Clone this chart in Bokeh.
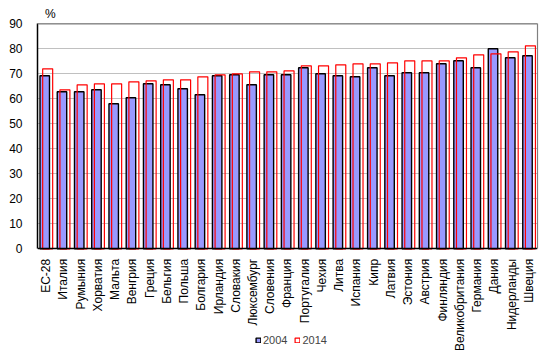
from bokeh.plotting import figure
from bokeh.models import (ColumnDataSource, FactorRange, Range1d, Legend, LegendItem,
                          Label, FixedTicker, LinearAxis, Span)
from bokeh.transform import dodge
from bokeh.embed import file_html
from bokeh.resources import INLINE
from math import pi

countries = ["ЕС-28", "Италия", "Румыния", "Хорватия", "Мальта", "Венгрия", "Греция",
             "Бельгия", "Польша", "Болгария", "Ирландия", "Словакия", "Люксембург",
             "Словения", "Франция", "Португалия", "Чехия", "Литва", "Испания", "Кипр",
             "Латвия", "Эстония", "Австрия", "Финляндия", "Великобритания", "Германия",
             "Дания", "Нидерланды", "Швеция"]
v2004 = [69.2, 62.8, 62.8, 63.6, 58.0, 60.4, 66.0, 65.6, 64.0, 61.6, 69.2, 69.6, 65.6,
         69.6, 69.6, 72.4, 70.0, 69.2, 68.8, 72.4, 69.2, 70.4, 70.4, 74.0, 75.2, 72.4,
         80.0, 76.4, 77.2]
v2014 = [72.0, 63.6, 65.6, 66.0, 66.0, 66.8, 67.2, 67.6, 67.6, 68.8, 69.6, 70.0, 70.8,
         70.8, 71.2, 73.2, 73.2, 73.6, 74.0, 74.0, 74.4, 75.2, 75.2, 75.2, 76.4, 77.6,
         78.0, 78.8, 81.2]
y_ticks = [0, 10, 20, 30, 40, 50, 60, 70, 80, 90]
series_names = ["2004", "2014"]
unit_label = "%"

FONT = "Liberation Sans"
Y_MAX = 90

# frame covers the full height; value axis 0..90 maps to pixel rows 248.3..23.3
PX_PER_UNIT = 2.5
y_lo = -(356 - 248.3) / PX_PER_UNIT
y_hi = Y_MAX + 23.3 / PX_PER_UNIT

src = ColumnDataSource(dict(country=countries, v2004=v2004, v2014=v2014))

p = figure(x_range=FactorRange(*countries), y_range=Range1d(y_lo, y_hi),
           width=550, height=356, output_backend="svg", toolbar_location=None,
           min_border_left=37, min_border_right=13, min_border_top=0,
           min_border_bottom=0)
p.background_fill_color = "white"
p.border_fill_color = "white"
p.outline_line_color = None

p.xgrid.grid_line_color = None
p.ygrid.grid_line_color = "#c0c0c0"
p.ygrid.grid_line_width = 1.2
p.ygrid.ticker = FixedTicker(ticks=y_ticks)
p.yaxis.ticker = FixedTicker(ticks=y_ticks)
p.yaxis.bounds = (0, Y_MAX)

r1 = p.vbar(x=dodge("country", -0.08, range=p.x_range), top="v2004", width=0.55,
            bottom=0, fill_color="#9999ff", line_color="black", line_width=1.4,
            source=src)
r2 = p.vbar(x=dodge("country", 0.09, range=p.x_range), top="v2014", width=0.58,
            bottom=0, fill_color=None, line_color="red", line_width=1.2,
            source=src)

# gray plot-area border (top and right)
p.add_layout(Span(location=Y_MAX, dimension="width", line_color="#808080",
                  line_width=1.2))
right_ax = LinearAxis(bounds=(0, Y_MAX), ticker=FixedTicker(ticks=[]),
                      axis_line_color="#808080", axis_line_width=1.2,
                      major_tick_line_color=None, minor_tick_line_color=None,
                      major_label_text_font_size="0px")
p.add_layout(right_ax, "right")

for ax in (p.xaxis[0], p.yaxis[0]):
    ax.major_tick_line_color = None
    ax.minor_tick_line_color = None
    ax.axis_line_color = "black"
    ax.axis_line_width = 1.5
    ax.major_label_text_font = FONT
    ax.major_label_text_font_size = "12px"
    ax.major_label_text_color = "black"

p.xaxis.fixed_location = 0
p.yaxis.major_label_standoff = 9
p.xaxis.major_label_standoff = 4
p.xaxis.major_label_orientation = pi / 2

p.add_layout(Label(x=0.75, y=Y_MAX, y_offset=3, text=unit_label, text_font=FONT,
                   text_font_size="12px", text_align="center",
                   text_baseline="bottom", text_color="black"))

legend = Legend(items=[LegendItem(label=series_names[0], renderers=[r1]),
                       LegendItem(label=series_names[1], renderers=[r2])],
                location=(218, 10), orientation="horizontal",
                glyph_width=6, glyph_height=6, label_standoff=2, spacing=7,
                padding=0, margin=0, label_height=12,
                label_text_font=FONT, label_text_font_size="11px",
                border_line_color=None, background_fill_alpha=0)
p.add_layout(legend, "center")

open("out.html", "w").write(file_html(p, INLINE))
